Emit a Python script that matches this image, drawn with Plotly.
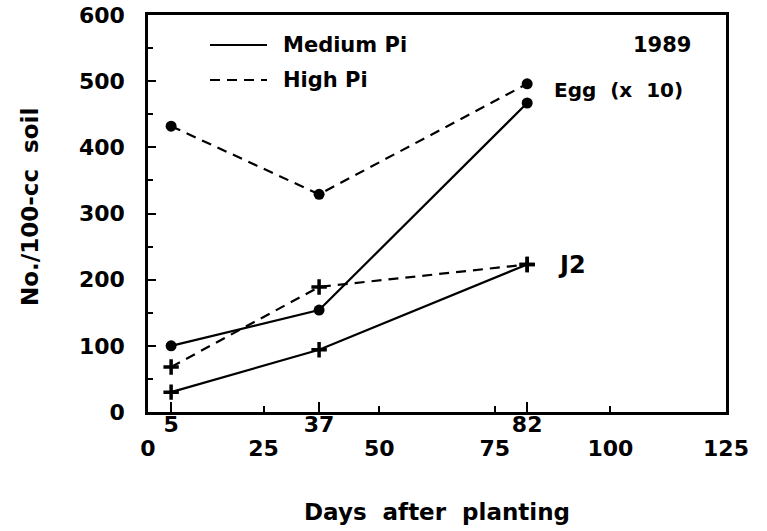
import plotly.graph_objects as go

days = [5, 37, 82]
egg_medium = [100, 154, 467]
egg_high = [432, 329, 496]
j2_medium = [30, 94, 223]
j2_high = [68, 189, 223]

x_ticks = [0, 25, 50, 75, 100, 125]
x_sample_ticks = [5, 37, 82]
y_ticks = [0, 100, 200, 300, 400, 500, 600]

FONT = "DejaVu Sans"
NB = "\u00a0"
FIG_W, FIG_H = 767, 531
L, T, W, H = 148, 15, 578, 397

def px(x):
    return (x - L) / W

def py(y):
    return ((T + H) - y) / H

fig = go.Figure()
line_w = 2.2
dash = "10px,7px"
fig.add_trace(go.Scatter(x=days, y=egg_high, mode="lines+markers",
                         line=dict(color="black", width=line_w, dash=dash),
                         marker=dict(symbol="circle", size=11, color="black"),
                         showlegend=False))
fig.add_trace(go.Scatter(x=days, y=egg_medium, mode="lines+markers",
                         line=dict(color="black", width=line_w),
                         marker=dict(symbol="circle", size=11, color="black"),
                         showlegend=False))
fig.add_trace(go.Scatter(x=days, y=j2_high, mode="lines+markers",
                         line=dict(color="black", width=line_w, dash=dash),
                         marker=dict(symbol="cross-thin", size=11,
                                     line=dict(color="black", width=3.5)),
                         showlegend=False))
fig.add_trace(go.Scatter(x=days, y=j2_medium, mode="lines+markers",
                         line=dict(color="black", width=line_w),
                         marker=dict(symbol="cross-thin", size=11,
                                     line=dict(color="black", width=3.5)),
                         showlegend=False))
# invisible trace to activate second x axis (sampling-day ticks)
fig.add_trace(go.Scatter(x=days, y=j2_medium, xaxis="x2", mode="lines",
                         line=dict(width=0), hoverinfo="skip", showlegend=False,
                         opacity=0))

tickfont = dict(family=FONT, size=22, color="black", weight="bold")

fig.update_layout(
    width=FIG_W, height=FIG_H,
    margin=dict(l=L, r=FIG_W - L - W, t=T, b=FIG_H - T - H, autoexpand=False),
    paper_bgcolor="white", plot_bgcolor="white",
    xaxis=dict(range=[0, 125], tickmode="array", tickvals=x_ticks,
               ticktext=[str(v) for v in x_ticks],
               ticks="inside", ticklen=6, tickwidth=1.5, tickcolor="black",
               showline=True, linecolor="black", linewidth=2.5, mirror=True,
               showgrid=False, zeroline=False, tickfont=tickfont,
               ticklabelstandoff=15, automargin=False, ticklabeloverflow="allow"),
    xaxis2=dict(range=[0, 125], overlaying="x", side="bottom", anchor="y",
                tickmode="array", tickvals=x_sample_ticks,
                ticktext=[str(v) for v in x_sample_ticks],
                ticks="inside", ticklen=10, tickwidth=2, tickcolor="black",
                showline=False, showgrid=False, zeroline=False,
                tickfont=tickfont, ticklabelstandoff=-3, automargin=False,
                ticklabeloverflow="allow"),
    yaxis=dict(range=[0, 600], tickmode="array", tickvals=y_ticks,
               ticks="inside", ticklen=8, tickwidth=1.5, tickcolor="black",
               minor=dict(ticks="inside", ticklen=5, dtick=50, tickwidth=1.5,
                          tickcolor="black", showgrid=False),
               showline=True, linecolor="black", linewidth=2.5, mirror=True,
               showgrid=False, zeroline=False, tickfont=tickfont,
               ticklabelstandoff=16, automargin=False, ticklabeloverflow="allow"),
    showlegend=False,
)

# axis titles
tfont = dict(family=FONT, size=23, color="black", weight="bold")
fig.add_annotation(text=f"Days{NB}{NB}after{NB}{NB}planting", xref="paper", yref="paper",
                   x=px(437), y=py(512), xanchor="center", yanchor="middle",
                   showarrow=False, font=tfont)
fig.add_annotation(text=f"No./100-cc{NB}{NB}soil", xref="paper", yref="paper",
                   x=px(30), y=py(207), xanchor="center", yanchor="middle",
                   textangle=-90, showarrow=False, font=tfont)

# legend drawn in paper coordinates
for yy, dsh in [(45, "solid"), (80, "10px,7px")]:
    fig.add_shape(type="line", xref="paper", yref="paper",
                  x0=px(210), x1=px(267), y0=py(yy), y1=py(yy),
                  line=dict(color="black", width=2, dash=dsh))

afont = dict(family=FONT, size=21, color="black", weight="bold")
fig.add_annotation(text=f"Medium{NB}Pi", xref="paper", yref="paper", x=px(281), y=py(45),
                   xanchor="left", yanchor="middle", showarrow=False, font=afont)
fig.add_annotation(text=f"High{NB}Pi", xref="paper", yref="paper", x=px(281), y=py(80),
                   xanchor="left", yanchor="middle", showarrow=False, font=afont)
fig.add_annotation(text="1989", xref="paper", yref="paper", x=px(693), y=py(45),
                   xanchor="right", yanchor="middle", showarrow=False,
                   font=dict(family=FONT, size=21, color="black", weight="bold"))
fig.add_annotation(text=f"Egg{NB}{NB}(x{NB}{NB}10)", xref="paper", yref="paper",
                   x=px(552), y=py(90),
                   xanchor="left", yanchor="middle", showarrow=False,
                   font=dict(family=FONT, size=20, color="black", weight="bold"))
fig.add_annotation(text="J2", xref="paper", yref="paper", x=px(556), y=py(265),
                   xanchor="left", yanchor="middle", showarrow=False,
                   font=dict(family=FONT, size=24, color="black", weight="bold"))

fig.write_html("out.html", config={"displayModeBar": False},
               post_script="document.body.style.margin='0';document.body.style.padding='0';")
